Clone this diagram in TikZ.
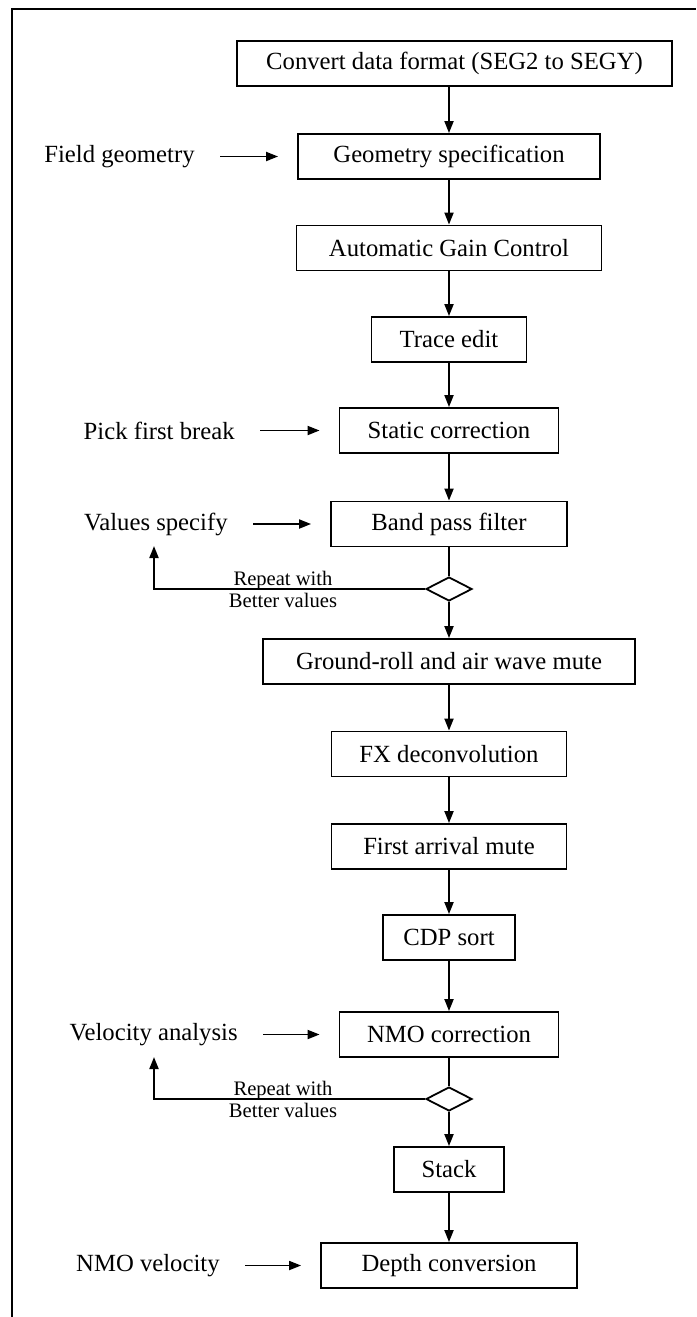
\documentclass[tikz,border=0pt]{standalone}
\usepackage{fontspec}
\setmainfont{Liberation Serif}
\usetikzlibrary{shapes.geometric,arrows.meta}

\newlength{\pxu}
\setlength{\pxu}{0.5pt}

\tikzset{
  procbox/.style={draw, line width=0.9pt, minimum height=22.5pt, inner sep=0pt,
    font=\fontsize{12.35}{14}\selectfont},
  decide/.style={draw, diamond, line width=0.9pt, minimum width=23pt,
    minimum height=12pt, inner sep=0pt},
  sidetext/.style={anchor=east, inner xsep=12.5pt, inner ysep=0pt,
    font=\fontsize{12.35}{14}\selectfont},
  loopnote/.style={align=center, inner sep=0pt, font=\fontsize{10.3}{11}\selectfont},
  flow/.style={line width=0.9pt, -{Triangle[length=6pt,width=4.5pt]}},
}

\begin{document}
\begin{tikzpicture}[x=\pxu, y=-\pxu]
\useasboundingbox (0,0) rectangle (696,1317);
% outer frame, cut at right and bottom
\draw[line width=0.9pt] (12,1317) -- (12,9) -- (696,9);

% main chain
\node[procbox, minimum width=217.5pt] (conv) at (454.5,63.5) {Convert data format (SEG2 to SEGY)};
\node[procbox, minimum width=151pt] (geom) at (449,156.5) {Geometry specification};
\node[procbox, minimum width=152.5pt] (agc) at (449,248) {Automatic Gain Control};
\node[procbox, minimum width=77.5pt] (trace) at (449,339.5) {Trace edit};
\node[procbox, minimum width=109.5pt] (static) at (449,430.5) {Static correction};
\node[procbox, minimum width=118pt] (bpf) at (449,524) {Band pass filter};
\node[decide] (d1) at (449,589) {};
\node[procbox, minimum width=186pt] (ground) at (449,661.5) {Ground-roll and air wave mute};
\node[procbox, minimum width=117.5pt] (fx) at (449,754) {FX deconvolution};
\node[procbox, minimum width=117.5pt] (fam) at (449,846.5) {First arrival mute};
\node[procbox, minimum width=66pt] (cdp) at (449,937.5) {CDP sort};
\node[procbox, minimum width=109.5pt] (nmo) at (449,1034.5) {NMO correction};
\node[decide] (d2) at (449,1099) {};
\node[procbox, minimum width=55pt] (stack) at (449,1169.5) {Stack};
\node[procbox, minimum width=128pt] (depth) at (449,1265.5) {Depth conversion};

\draw[flow] (conv.south -| geom) -- (geom);
\draw[flow] (geom) -- (agc);
\draw[flow] (agc) -- (trace);
\draw[flow] (trace) -- (static);
\draw[flow] (static) -- (bpf);
\draw[line width=0.9pt] (bpf) -- (d1);
\draw[flow] (d1) -- (ground);
\draw[flow] (ground) -- (fx);
\draw[flow] (fx) -- (fam);
\draw[flow] (fam) -- (cdp);
\draw[flow] (cdp) -- (nmo);
\draw[line width=0.9pt] (nmo) -- (d2);
\draw[flow] (d2) -- (stack);
\draw[flow] (stack) -- (depth);

% inputs from the left
\node[sidetext] (fieldgeo) at (220,156.5) {Field geometry};
\node[sidetext] (pickfb) at (260,430.5) {Pick first break};
\node[sidetext] (valspec) at (253,524) {Values specify};
\node[sidetext] (velana) at (263,1034.5) {Velocity analysis};
\node[sidetext] (nmovel) at (245,1265.5) {NMO velocity};

\draw[flow, shorten >=9.5pt] (fieldgeo) -- (geom);
\draw[flow, shorten >=9.5pt] (pickfb) -- (static);
\draw[flow, shorten >=9.5pt] (valspec) -- (bpf);
\draw[flow, shorten >=9.5pt] (velana) -- (nmo);
\draw[flow, shorten >=9.5pt] (nmovel) -- (depth);

% repeat loops
\coordinate (back1) at (154,546);
\coordinate (back2) at (154,1057);
\draw[flow] (d1.west) -| (back1);
\draw[flow] (d2.west) -| (back2);
\node[loopnote] (rep1) at (283,589) {Repeat with\\Better values};
\node[loopnote] (rep2) at (283,1099) {Repeat with\\Better values};
\end{tikzpicture}
\end{document}
